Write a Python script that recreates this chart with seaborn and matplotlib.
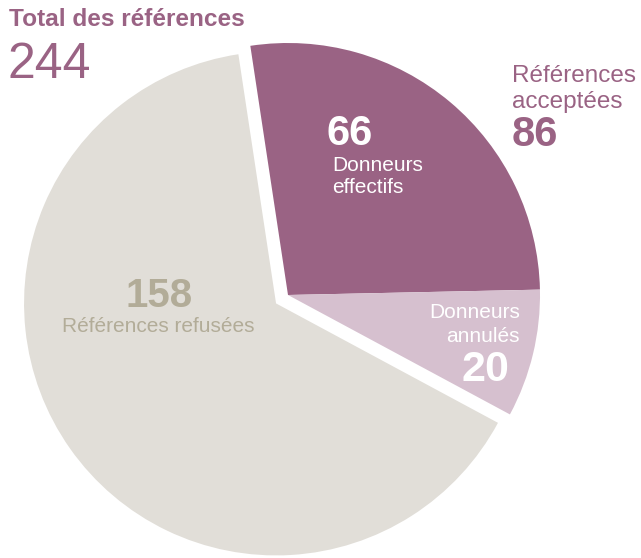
import matplotlib
matplotlib.use("Agg")
import matplotlib.pyplot as plt
import seaborn as sns

# Donor referral outcomes
categories = ["Donneurs effectifs", "Donneurs annulés", "Références refusées"]
values = [66, 20, 158]
accepted_lines = ["Références", "acceptées"]
total_label = "Total des références"

sns.set_style("white")
plt.rcParams["font.family"] = ["Liberation Sans", "DejaVu Sans"]

purple = "#9A6384"
light_purple = "#D6C0CF"
grey = "#E1DED8"
grey_text = "#B2AC98"
colors = [purple, light_purple, grey]

W, H = 641, 558
R = 252.0
cx, cy = 288.0, 295.0  # pie centre in pixels (from top-left)

fig = plt.figure(figsize=(W / 100, H / 100), dpi=100)
ax = fig.add_axes([0, 0, 1, 1])
ax.pie(values, colors=colors, startangle=98.6, counterclock=False,
       explode=[0, 0, 0.058], radius=1.0, center=(0, 0),
       wedgeprops=dict(linewidth=0))
ax.set_xlim(-cx / R, (W - cx) / R)
ax.set_ylim(-(H - cy) / R, cy / R)
ax.set_aspect("equal")
ax.axis("off")


def px(x, y):
    return ((x - cx) / R, (cy - y) / R)


def label(x, y, s, **kw):
    kw.setdefault("va", "baseline")
    kw.setdefault("ha", "left")
    ax.text(*px(x, y), s, **kw)


total = sum(values)
accepted = values[0] + values[1]

# Overall total, top left
label(9, 26.5, total_label, color=purple, fontsize=17.6, fontweight="bold")
label(8, 78, f"{total}", color=purple, fontsize=36)

# Accepted referrals, top right
label(512, 82, accepted_lines[0], color=purple, fontsize=17.5)
label(512, 108, accepted_lines[1], color=purple, fontsize=17.5)
label(512, 146, f"{accepted}", color=purple, fontsize=30, fontweight="bold")

# Effective donors
label(326, 145, f"{values[0]}", color="white", fontsize=30, fontweight="bold")
label(332, 171, "Donneurs", color="white", fontsize=15)
label(332, 193, "effectifs", color="white", fontsize=15)

# Cancelled donors
label(520, 318, "Donneurs", color="white", fontsize=15, ha="right")
label(520, 342, "annulés", color="white", fontsize=15, ha="right")
label(509, 381, f"{values[1]}", color="white", fontsize=31, fontweight="bold",
      ha="right")

# Refused referrals
label(159, 307, f"{values[2]}", color=grey_text, fontsize=29, fontweight="bold",
      ha="center")
label(158, 332, categories[2], color=grey_text, fontsize=15, ha="center")

fig.savefig("out.png", dpi=100)
